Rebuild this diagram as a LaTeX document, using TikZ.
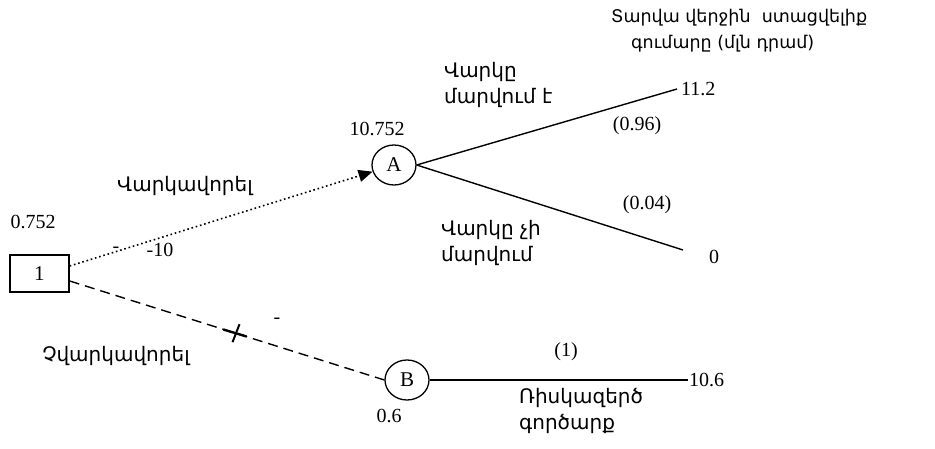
\documentclass[tikz,border=0pt]{standalone}
\usepackage{fontspec}
\setmainfont{Liberation Serif}
\newfontfamily\armfont{DejaVu Sans}
\usetikzlibrary{shapes.geometric, arrows.meta, positioning}

\begin{document}
\begin{tikzpicture}[x=1pt, y=-1pt,
  decision/.style={rectangle, draw, line width=1.4pt,
                   minimum width=59pt, minimum height=37pt, inner sep=0pt,
                   font=\fontsize{21}{24}\selectfont},
  chance/.style={ellipse, draw, line width=1.3pt,
                 minimum width=44pt, minimum height=40pt, inner sep=0pt,
                 font=\fontsize{21}{24}\selectfont},
  num/.style={inner sep=0pt, font=\fontsize{20}{24}\selectfont},
  arm/.style={inner sep=0pt, align=left, font=\armfont\fontsize{20}{26}\selectfont},
  branch/.style={line width=1.4pt},
  credit/.style={line width=1.6pt, dash pattern=on 1.6pt off 2.8pt,
                 -{Triangle[length=14pt, width=12pt]}},
  nocredit/.style={line width=1.4pt, dash pattern=on 10pt off 6pt},
]
  \useasboundingbox (0,0) rectangle (935,449);

  % decision node and its two chance nodes
  \node[decision] (dec) at (39.5,273.5) {1};
  \node[chance] (chA) at (394,165) {A};
  \node[chance] (chB) at (407,380) {B};

  % end points of the branches
  \coordinate (endWin) at (677,89);
  \coordinate (endLose) at (683,250);
  \coordinate (endSafe) at (688,380);

  % lend / do not lend
  \draw[credit] ([yshift=7.5pt]dec.east) -- (chA);
  \draw[nocredit] ([yshift=-7.5pt]dec.east) -- coordinate[pos=0.527] (cut) (chB.west);
  \draw[line width=2.4pt] ([shift={(-12,-3.6)}]cut) -- ([shift={(11,3.3)}]cut);
  \draw[line width=2pt] ([shift={(4,-9)}]cut) -- ([shift={(-3,9)}]cut);

  % outcomes
  \draw[branch] (chA.east) -- (endWin);
  \draw[branch] (chA.east) -- (endLose);
  \draw[branch] (chB.east) -- (endSafe);

  % values
  \node[num] (vDec) at (33,222) {0.752};
  \node[num, above=8pt of chA, xshift=-17pt] (vA) {10.752};
  \node[num, below=8pt of chB, xshift=-18pt] (vB) {0.6};
  \node[num, right=4pt of endWin] (vWin) {11.2};
  \node[num] (vLose) at (714,257) {0};
  \node[num, right=1pt of endSafe] (vSafe) {10.6};
  \node[num] (cost) at (160,250) {-10};
  \node[num] (dashA) at (116,250) {-};
  \node[num] (dashB) at (277,321) {-};

  % probabilities
  \node[num] (pWin) at (637,126) {(0.96)};
  \node[num] (pLose) at (647,205) {(0.04)};
  \node[num] (pSafe) at (566,352) {(1)};

  % Armenian labels
  \node[arm, anchor=west, font=\armfont\fontsize{17.5}{26}\selectfont] (title) at (611,31)
    {Տարվա վերջին\ \ ստացվելիք\\\hspace*{20pt}գումարը (մլն դրամ)};
  \node[arm, anchor=west] (lWin) at (444,85) {Վարկը\\ մարվում է};
  \node[arm, anchor=west] (lLose) at (441,243) {Վարկը չի\\ մարվում};
  \node[arm] (lLend) at (185,186) {Վարկավորել};
  \node[arm] (lNoLend) at (116,356) {Չվարկավորել};
  \node[arm, anchor=west] (lSafe) at (519,411) {Ռիսկազերծ\\ գործարք};
\end{tikzpicture}
\end{document}
